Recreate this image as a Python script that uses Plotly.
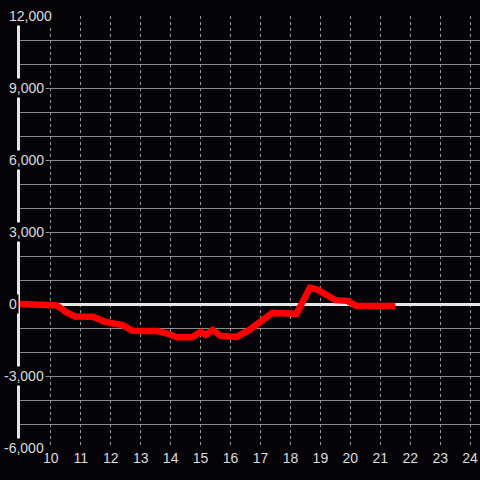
import plotly.graph_objects as go

# intraday curve, hour of day vs value
hours = [8.9, 10.0, 10.2, 10.5, 10.8, 11.4, 11.8, 12.4, 12.7, 13.0, 13.55, 13.95,
         14.2, 14.7, 15.0, 15.17, 15.4, 15.67, 16.2, 16.6, 17.4, 18.2, 18.65,
         18.9, 19.5, 19.9, 20.2, 21.5]
values = [0, 0, -60, -330, -520, -530, -740, -880, -1110, -1125, -1125, -1250,
          -1390, -1390, -1170, -1290, -1080, -1330, -1370, -1100, -370, -410, 680,
          600, 160, 130, -80, -80]

x_ticks = list(range(10, 25))
y_ticks = [-6000, -3000, 0, 3000, 6000, 9000, 12000]
y_labels = ["-6,000", "-3,000", "0", "3,000", "6,000", "9,000", "12,000"]

BG = "#050308"
TEXT = "#dcdcdc"

fig = go.Figure()
fig.add_trace(
    go.Scatter(
        x=hours,
        y=values,
        mode="lines",
        line={"color": "#ff0000", "width": 6.5},
        showlegend=False,
        hoverinfo="skip",
    )
)

# y labels sit over the axis line with a dark box, like the source chart
for val, lab in zip(y_ticks, y_labels):
    fig.add_annotation(
        x=0,
        xref="paper",
        y=val,
        yref="y",
        text=lab,
        showarrow=False,
        xanchor="left",
        yanchor="middle",
        xshift=-18 if lab.startswith("-") else -13,
        bgcolor=BG,
        borderpad=1,
        font={"size": 14, "color": TEXT},
    )

fig.update_xaxes(
    range=[8.97, 24.33],
    tickvals=x_ticks,
    showgrid=True,
    gridcolor="#9a9a9a",
    griddash="dot",
    gridwidth=1,
    zeroline=False,
    showline=False,
    ticks="",
    tickfont={"size": 14, "color": TEXT},
)
fig.update_yaxes(
    range=[-6000, 12000],
    tickvals=y_ticks,
    showticklabels=False,
    showgrid=True,
    gridcolor="#8c8c8c",
    gridwidth=1,
    minor={"dtick": 1000, "showgrid": True, "gridcolor": "#8c8c8c", "gridwidth": 1},
    zeroline=True,
    zerolinecolor="#e6e6e6",
    zerolinewidth=3,
    showline=True,
    linecolor="#e6e6e6",
    linewidth=3,
    ticks="",
)
fig.update_layout(
    width=480,
    height=480,
    paper_bgcolor=BG,
    plot_bgcolor=BG,
    margin={"l": 20, "r": 0, "t": 16, "b": 32},
    font={"family": "Liberation Sans, Arial, sans-serif", "color": TEXT},
)

fig.write_html(
    "out.html",
    config={"displayModeBar": False},
    post_script="document.body.style.margin='0';document.body.style.background='%s';" % BG,
)
